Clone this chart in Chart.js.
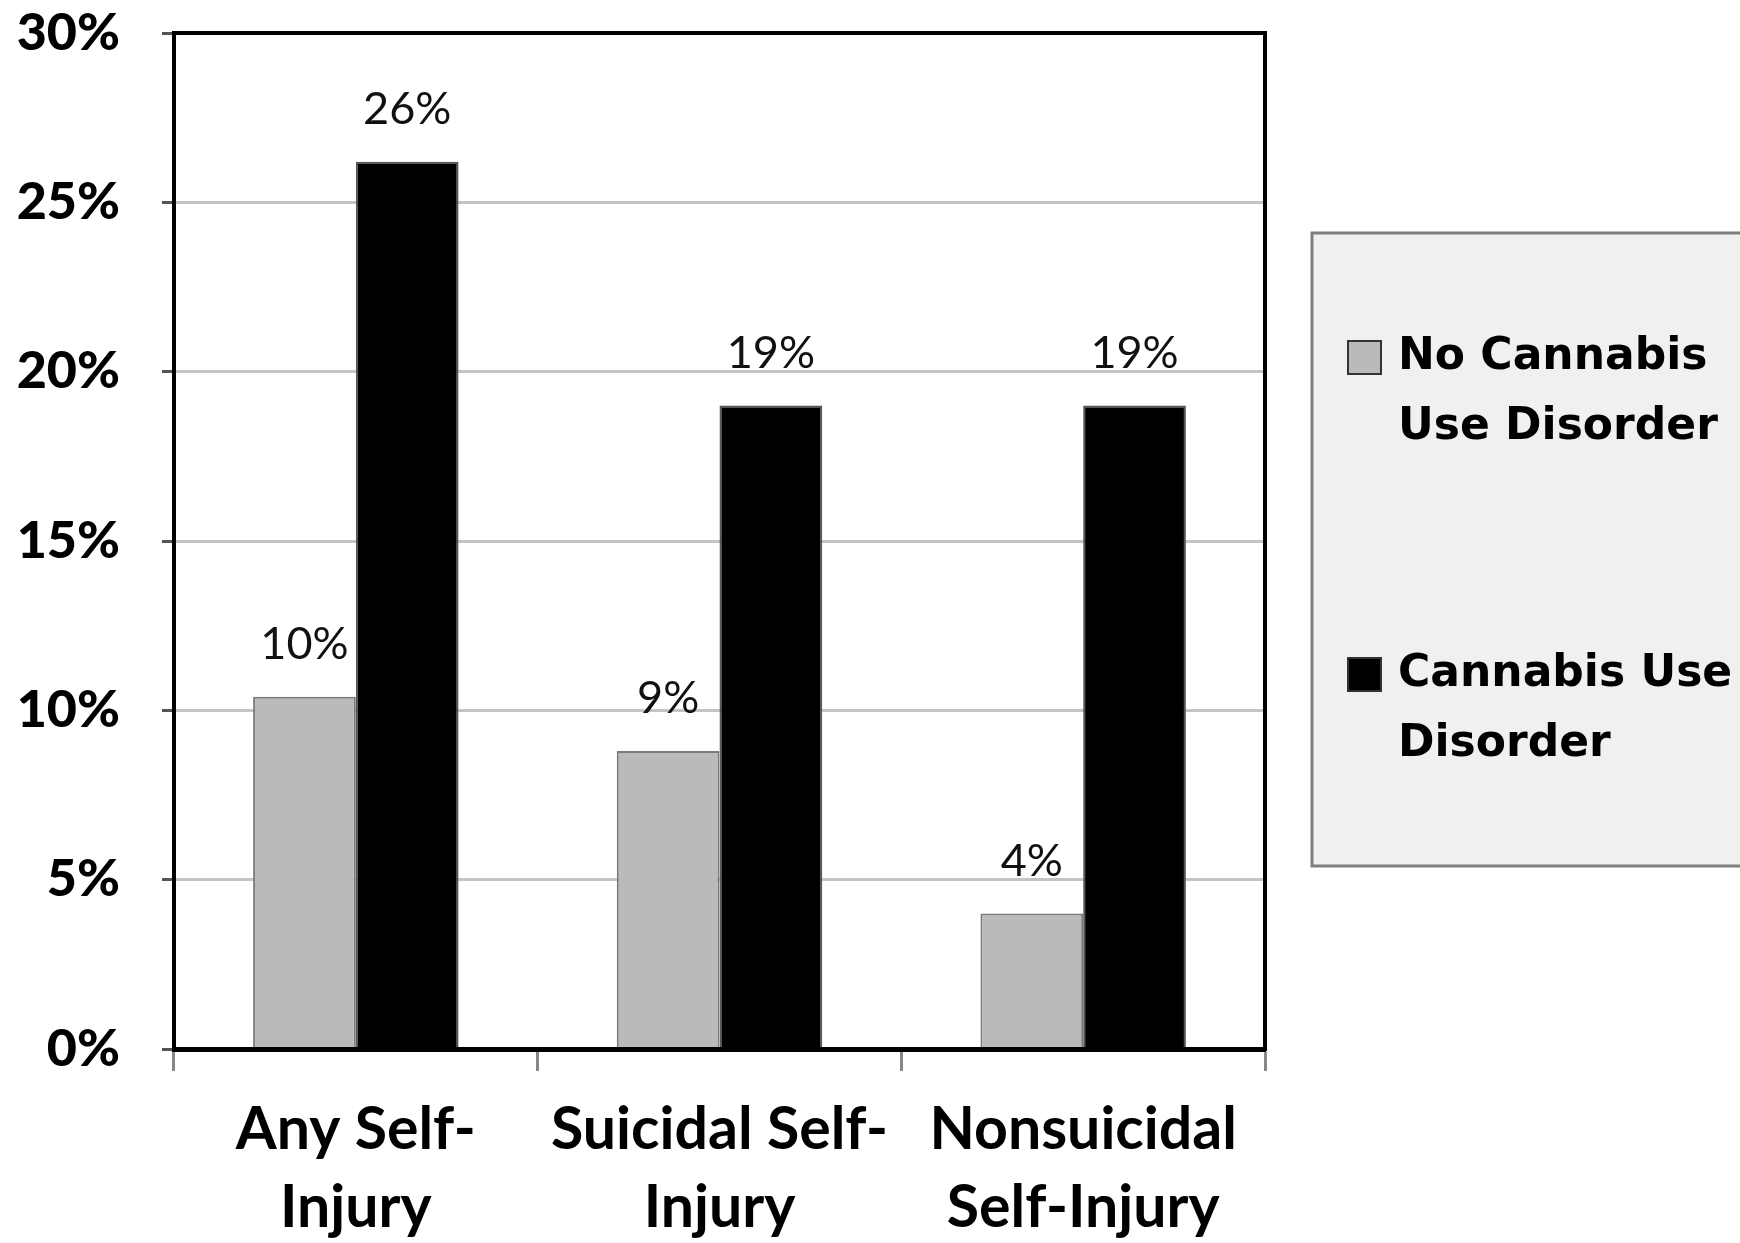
<!DOCTYPE html>
<html>
<head>
<meta charset="utf-8">
<script src="https://cdn.jsdelivr.net/npm/chart.js@4.4.1/dist/chart.umd.min.js"></script>
<style>
  body { margin: 0; background: #fff; }
  #wrap { width: 1740px; height: 1243px; }
</style>
</head>
<body>
<div id="wrap"><canvas id="myChart" width="1740" height="1243"></canvas></div>
<script>
// Categories (two-line tick labels)
const categories = [
  ["Any Self-", "Injury"],
  ["Suicidal Self-", "Injury"],
  ["Nonsuicidal", "Self-Injury"],
];
// Series names, split the way the legend wraps them
const seriesNames = [
  ["No Cannabis", "Use Disorder"],
  ["Cannabis Use", "Disorder"],
];
// Percent values
const noCudValues = [10.4, 8.8, 4.0];
const cudValues = [26.2, 19.0, 19.0];
// Y axis ticks
const yTicks = [0, 5, 10, 15, 20, 25, 30];

const seriesColors = ["#bababa", "#000000"];
const seriesBorders = ["#7a7a7a", "#555555"];

// Value labels above the bars
const valueLabels = {
  id: "valueLabels",
  afterDatasetsDraw(chart) {
    const ctx = chart.ctx;
    ctx.save();
    ctx.font = "45px Lato";
    ctx.fillStyle = "#111";
    ctx.textAlign = "center";
    ctx.textBaseline = "middle";
    chart.data.datasets.forEach((ds, i) => {
      chart.getDatasetMeta(i).data.forEach((bar, j) => {
        ctx.fillText(Math.round(ds.data[j]) + "%", bar.x, bar.y - 52);
      });
    });
    ctx.restore();
  },
};

// Frame around the plot area
const plotFrame = {
  id: "plotFrame",
  afterDraw(chart) {
    const a = chart.chartArea;
    const ctx = chart.ctx;
    ctx.save();
    ctx.strokeStyle = "#000";
    ctx.lineWidth = 4;
    ctx.strokeRect(a.left, a.top, a.right - a.left, a.bottom - a.top);
    ctx.restore();
  },
};

// Boxed legend on the right with wrapped labels
const boxLegend = {
  id: "boxLegend",
  afterDraw(chart) {
    const a = chart.chartArea;
    const ctx = chart.ctx;
    const x = a.right + 47;
    const y = 233;
    ctx.save();
    ctx.fillStyle = "#f0f0f0";
    ctx.fillRect(x, y, chart.width - x + 10, 633);
    ctx.strokeStyle = "#7f7f7f";
    ctx.lineWidth = 3;
    ctx.strokeRect(x, y, chart.width - x + 10, 633);
    ctx.font = "bold 44px 'DejaVu Sans'";
    ctx.textAlign = "left";
    ctx.textBaseline = "middle";
    const rowY = [358, 675];
    chart.data.datasets.forEach((ds, i) => {
      ctx.fillStyle = ds.backgroundColor;
      ctx.fillRect(x + 36, rowY[i] - 17, 33, 33);
      ctx.strokeStyle = "#333";
      ctx.lineWidth = 2;
      ctx.strokeRect(x + 36, rowY[i] - 17, 33, 33);
      ctx.fillStyle = "#000";
      seriesNames[i].forEach((line, k) => {
        ctx.fillText(line, x + 86, rowY[i] + k * 70);
      });
    });
    ctx.restore();
  },
};

const data = {
  labels: categories,
  datasets: [
    {
      label: seriesNames[0].join(" "),
      data: noCudValues,
      backgroundColor: seriesColors[0],
      borderColor: seriesBorders[0],
      borderWidth: 2,
    },
    {
      label: seriesNames[1].join(" "),
      data: cudValues,
      backgroundColor: seriesColors[1],
      borderColor: seriesBorders[1],
      borderWidth: 2,
    },
  ],
};

const config = {
  type: "bar",
  data: data,
  options: {
    responsive: false,
    animation: false,
    layout: { padding: { top: 33, right: 475, left: 0, bottom: 0 } },
    datasets: { bar: { categoryPercentage: 0.565, barPercentage: 1.0 } },
    plugins: {
      legend: { display: false },
      tooltip: { enabled: false },
    },
    scales: {
      x: {
        grid: {
          offset: true,
          drawOnChartArea: false,
          tickLength: 22,
          tickColor: "#888",
          tickWidth: 3,
        },
        border: { color: "#000", width: 5 },
        ticks: {
          color: "#000",
          font: { family: "Lato", weight: "bold", size: 59, lineHeight: 1.32 },
          padding: 20,
          maxRotation: 0,
          autoSkip: false,
        },
        afterFit(scale) {
          scale.height = 194;
          scale.paddingLeft = 0;
          scale.paddingRight = 0;
        },
      },
      y: {
        min: 0,
        max: 30,
        afterBuildTicks(scale) { scale.ticks = yTicks.map(v => ({ value: v })); },
        grid: {
          color: "#c4c4c4",
          lineWidth: 3,
          tickLength: 12,
          tickColor: "#555",
          tickWidth: 3,
        },
        border: { color: "#000", width: 4 },
        ticks: {
          color: "#000",
          font: { family: "Lato", weight: "900", size: 52 },
          padding: 42,
          callback: v => v + "%",
        },
        afterFit(scale) {
          scale.width = 174;
          scale.paddingTop = 0;
          scale.paddingBottom = 0;
        },
      },
    },
  },
  plugins: [valueLabels, plotFrame, boxLegend],
};

// Create the chart
let myChart = new Chart(document.getElementById("myChart").getContext("2d"), config);
</script>
</body>
</html>
